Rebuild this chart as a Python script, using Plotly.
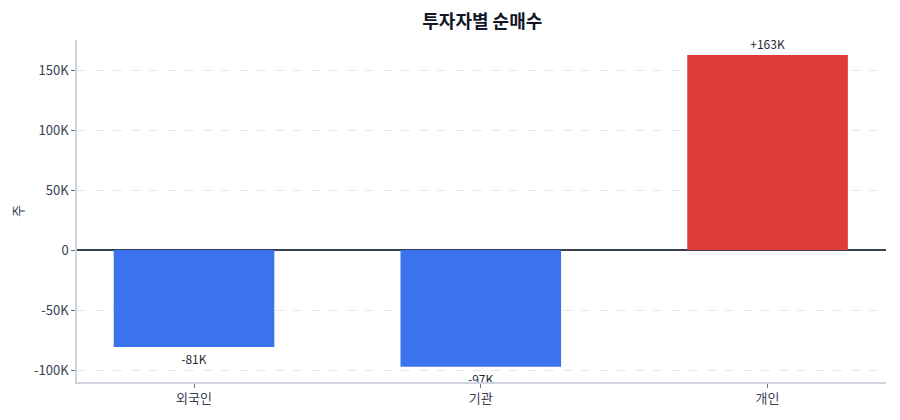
import plotly.graph_objects as go

investors = ["외국인", "기관", "개인"]
net_buy = [-80800, -97300, 162600]
bar_labels = ["-81K", "-97K", "+163K"]
bar_colors = ["#3b73ee", "#3b73ee", "#df3a3a"]

fig = go.Figure()
fig.add_trace(go.Bar(
    x=investors, y=net_buy,
    marker=dict(color=bar_colors, line=dict(width=0)),
    text=bar_labels, textposition="outside",
    textfont=dict(size=12, color="#1f2937"),
    cliponaxis=False, width=0.56,
))

# the page has an 8px body offset, margins are set with that in mind
fig.update_layout(
    width=900, height=420,
    margin=dict(l=69, r=22, t=32, b=46),
    paper_bgcolor="white", plot_bgcolor="white",
    font=dict(family="Noto Sans CJK KR", size=12, color="#374151"),
    title=dict(text="<b>투자자별 순매수</b>", x=0.527, xanchor="center",
               y=0.967, yanchor="middle",
               font=dict(size=18, color="#111827")),
    showlegend=False,
)
fig.update_xaxes(range=[-0.408, 2.413],
                 showline=True, linecolor="#cfd5e0", linewidth=1.5,
                 ticks="outside", ticklen=4, tickcolor="#6b7280",
                 tickfont=dict(size=13, color="#374151"))
fig.update_yaxes(range=[-110000, 175000], tickvals=[-100000, -50000, 0, 50000, 100000, 150000],
                 ticktext=["-100K", "-50K", "0", "50K", "100K", "150K"],
                 showline=True, linecolor="#cfd5e0", linewidth=1.5,
                 ticks="outside", ticklen=4, tickcolor="#6b7280",
                 showgrid=True, gridcolor="#e5e7eb", griddash="dash",
                 zeroline=True, zerolinecolor="#374151", zerolinewidth=1.5,
                 automargin=False,
                 title=dict(text="주", font=dict(size=13, color="#374151"), standoff=14),
                 tickfont=dict(size=13, color="#374151"))

fig.write_html("out.html")
